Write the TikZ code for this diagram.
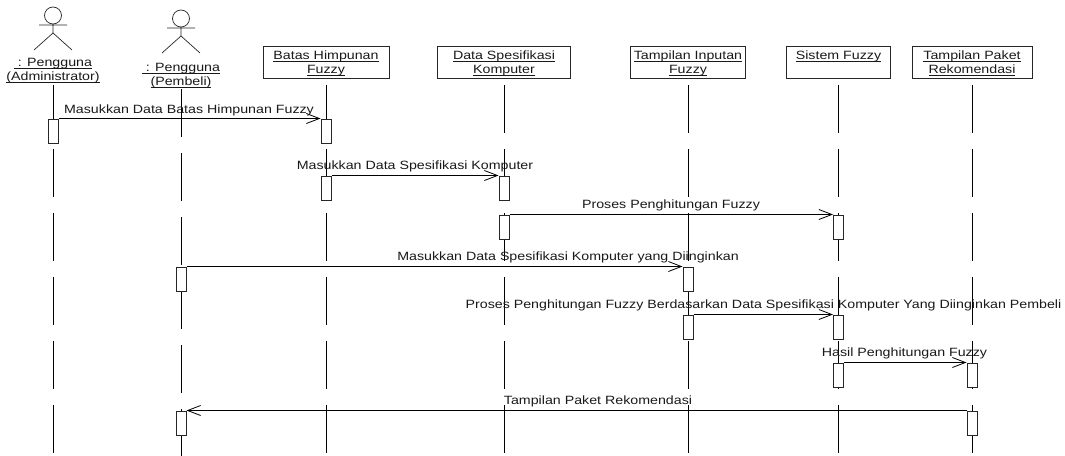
\documentclass[tikz,border=0pt]{standalone}
\usepackage{fontspec}
\setmainfont[FakeStretch=1.185]{Liberation Sans}
\usetikzlibrary{arrows.meta}
\newcommand{\ulbl}[1]{\strut\underline{\smash{#1}}}
\newcommand{\toppad}{\rule{0pt}{12.8pt}}
\tikzset{
  every node/.style={font=\fontsize{12}{14}\selectfont,text=black!90},
  objbox/.style={draw=black!85,line width=0.9pt,minimum height=32pt,inner sep=0pt,align=center},
  actorname/.style={inner sep=0pt,align=center},
  lifeline/.style={draw=black,line width=0.9pt,dash pattern=on 48pt off 16pt},
  actbox/.style={draw=black!85,line width=1pt,fill=white,minimum width=10pt,minimum height=24pt,inner sep=0pt},
  msg/.style={draw=black,line width=0.9pt,-{Straight Barb[length=13pt,width=10pt,line width=0.8pt]}},
  msgtext/.style={inner sep=0pt,anchor=base},
  actorfig/.pic={
    \draw[line width=0.7pt,black!85] (0,-8.5) circle[radius=8.5pt];
    \draw[line width=0.7pt,black!85] (-14,1) -- (14,1) (0,0) -- (0,9) (-19,26) -- (0,9) -- (19,26);
  }
}
\begin{document}
\begin{tikzpicture}[x=1pt,y=-1pt]
\useasboundingbox (0,0) rectangle (1065,455);
% actors
\pic at (53,24) {actorfig};
\pic at (181,27) {actorfig};
\node[actorname] (admname) at (53,71) {\ulbl{\ : Pengguna}\\\ulbl{(Administrator)}};
\node[actorname] (pemname) at (181,75.5) {\ulbl{\ : Pengguna}\\\ulbl{(Pembeli)}};
% objects
\node[objbox,minimum width=126pt] (batas) at (326,62.5) {\toppad\ulbl{Batas Himpunan}\\\ulbl{Fuzzy}};
\node[objbox,minimum width=133.5pt] (data) at (504,62.5) {\toppad\ulbl{Data Spesifikasi}\\\ulbl{Komputer}};
\node[objbox,minimum width=115pt] (input) at (688,62.5) {\toppad\ulbl{Tampilan Inputan}\\\ulbl{Fuzzy}};
\node[objbox,minimum width=104pt] (fuzzy) at (838.5,62.5) {\toppad\ulbl{Sistem Fuzzy}\\\strut};
\node[objbox,minimum width=120pt] (paket) at (972,62.5) {\toppad\ulbl{Tampilan Paket}\\\ulbl{Rekomendasi}};
% lifeline ends
\coordinate (admtop) at (53,85);
\coordinate (pemtop) at (181,89);
\coordinate (admend) at (53,453);
\coordinate (pemend) at (181,457);
\coordinate (batasend) at (326,453);
\coordinate (dataend) at (504,453);
\coordinate (inputend) at (688,453);
\coordinate (fuzzyend) at (838.5,453);
\coordinate (paketend) at (972,453);
% lifelines
\draw[lifeline] (admtop) -- (admend);
\draw[lifeline] (pemtop) -- (pemend);
\draw[lifeline,shorten <=6.5pt] (batas.south) -- (batasend);
\draw[lifeline,shorten <=6.5pt] (data.south) -- (dataend);
\draw[lifeline,shorten <=6.5pt] (input.south) -- (inputend);
\draw[lifeline,shorten <=6.5pt] (fuzzy.south) -- (fuzzyend);
\draw[lifeline,shorten <=6.5pt] (paket.south) -- (paketend);
% activations
\node[actbox] (a1) at (53,131) {};
\node[actbox] (b1) at (326,131) {};
\node[actbox] (b2) at (326,188) {};
\node[actbox] (d1) at (504,188) {};
\node[actbox] (d2) at (504,227) {};
\node[actbox] (f1) at (838.5,227) {};
\node[actbox] (p1) at (181,279) {};
\node[actbox] (i1) at (688,279) {};
\node[actbox] (i2) at (688,327) {};
\node[actbox] (f2) at (838.5,327) {};
\node[actbox] (f3) at (838.5,375) {};
\node[actbox] (k1) at (972,375) {};
\node[actbox] (k2) at (972,423) {};
\node[actbox] (p2) at (181,423) {};
% messages
\draw[msg] (a1.north east) -- (b1.north west);
\draw[msg] (b2.north east) -- (d1.north west);
\draw[msg] (d2.north east) -- (f1.north west);
\draw[msg] (p1.north east) -- (i1.north west);
\draw[msg] (i2.north east) -- (f2.north west);
\draw[msg] (f3.north east) -- (k1.north west);
\draw[msg] (k2.north west) -- (p2.north east);
% message labels
\node[msgtext] (t1) at (189,113) {Masukkan Data Batas Himpunan Fuzzy};
\node[msgtext] (t2) at (415,169) {Masukkan Data Spesifikasi Komputer};
\node[msgtext] (t3) at (671,208.5) {Proses Penghitungan Fuzzy};
\node[msgtext] (t4) at (568,260.5) {Masukkan Data Spesifikasi Komputer yang Diinginkan};
\node[msgtext] (t5) at (763.5,308.5) {Proses Penghitungan Fuzzy Berdasarkan Data Spesifikasi Komputer Yang Diinginkan Pembeli};
\node[msgtext] (t6) at (904.5,356.5) {Hasil Penghitungan Fuzzy};
\node[msgtext] (t7) at (598,404.5) {Tampilan Paket Rekomendasi};
\end{tikzpicture}
\end{document}
